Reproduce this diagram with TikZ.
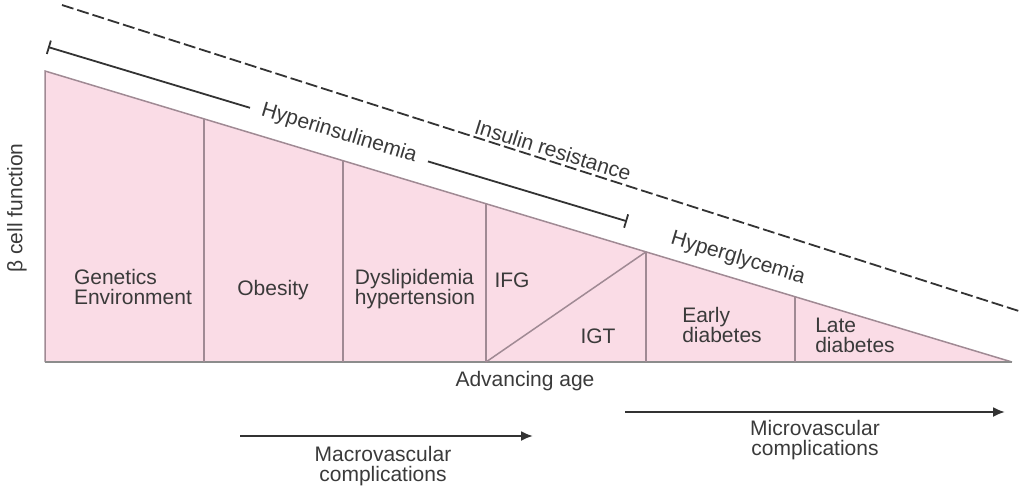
\documentclass[tikz,border=0pt]{standalone}
\usepackage{fontspec}
\setmainfont{Liberation Sans}
\usetikzlibrary{arrows.meta}
\definecolor{pinkfill}{HTML}{FADCE6}
\definecolor{edgecol}{HTML}{A08A94}
\definecolor{txt}{HTML}{3A3A3A}
\begin{document}
\begin{tikzpicture}[x=0.5pt,y=-0.5pt,
  lbl/.style={font=\fontsize{10.5}{10}\selectfont, text=txt, inner sep=0pt, align=left},
  clbl/.style={lbl, align=center},
  divider/.style={draw=edgecol, line width=0.75pt},
  axisline/.style={draw=black!80, line width=1pt, -{Latex[length=6pt,width=5pt]}},
  barline/.style={draw=black!80, line width=0.9pt}]
\useasboundingbox (0,0) rectangle (1025,495);
% pink triangle
\fill[pinkfill] (45,71) -- (45,362) -- (1012,362) -- cycle;
\draw[divider] (45,362) -- (45,71) -- (1012,362);
\draw[draw=black!45, line width=1pt] (45,362) -- (1012,362);
\draw[divider] (204,118.8) -- (204,362);
\draw[divider] (343,160.7) -- (343,362);
\draw[divider] (486,203.7) -- (486,362);
\draw[divider] (646,251.8) -- (646,362);
\draw[divider] (795,296.7) -- (795,362);
\draw[divider] (486,362) -- (646,251.8);
% dashed insulin resistance
\coordinate (d1) at (62,5);
\coordinate (d2) at (1022,312);
\draw[draw=black!80, line width=0.9pt, dash pattern=on 6pt off 2pt] (d1) -- (d2);
% hyperinsulinemia
\coordinate (h1) at (48,47);
\coordinate (h2) at (250,107.8);
\coordinate (h3) at (428,161.4);
\coordinate (h4) at (627,221.3);
\draw[barline, {Bar[width=7pt]}-] (h1) -- (h2);
\draw[barline, -{Bar[width=7pt]}] (h3) -- (h4);
\node[lbl, rotate=-16.8] (hyperins) at (339,133.5) {Hyperinsulinemia};
\node[lbl, rotate=-17.3] (insres) at (553,150) {Insulin resistance};
\node[lbl, rotate=-16.8] (hypergly) at (738,258.5) {Hyperglycemia};
% stage labels
\node[lbl] (gen) at (133,287) {Genetics\\Environment};
\node[lbl] (obe) at (273,290) {Obesity};
\node[lbl] (dys) at (415,289) {Dyslipidemia\\hypertension};
\node[lbl] (ifg) at (512,280) {IFG};
\node[lbl] (igt) at (598,336) {IGT};
\node[lbl] (early) at (722,325) {Early\\diabetes};
\node[lbl] (late) at (855,335) {Late\\diabetes};
% axes
\node[lbl] (age) at (525,381) {Advancing age};
\node[lbl, rotate=90] (beta) at (17,208) {β cell function};
% complications
\coordinate (m1) at (240,436);
\coordinate (m2) at (533,436);
\draw[axisline] (m1) -- (m2);
\node[clbl] (macro) at (383,466) {Macrovascular\\complications};
\coordinate (n1) at (625,412);
\coordinate (n2) at (1005,412);
\draw[axisline] (n1) -- (n2);
\node[clbl] (micro) at (815,440) {Microvascular\\complications};
\end{tikzpicture}
\end{document}
